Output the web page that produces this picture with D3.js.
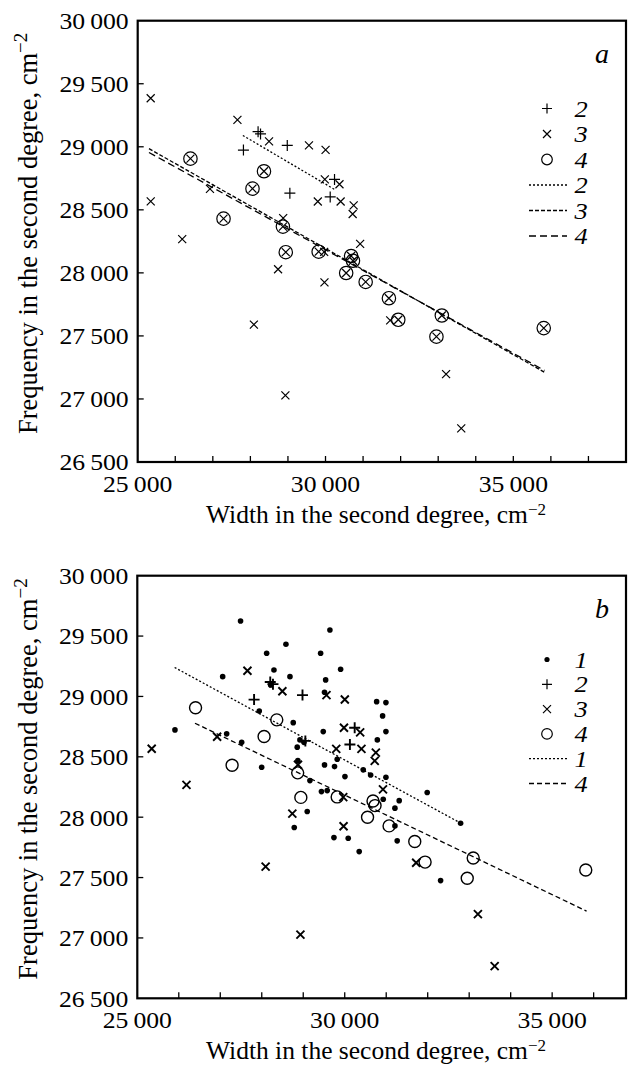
<!DOCTYPE html>
<html>
<head>
<meta charset="utf-8">
<script src="https://cdn.jsdelivr.net/npm/d3@7"></script>
<style>
  body { margin: 0; background: #fff; }
  svg { display: block; }
  text { font-family: "Liberation Serif", "Times New Roman", serif; fill: #000; }
</style>
</head>
<body>
<svg width="628" height="1068"></svg>
<script>
// series 2 (+), 3 (x), 4 (o) are the same in both panels
const series2 = [[27815, 28974], [28982, 29011], [28205, 29120], [28270, 29102],
  [30240, 28741], [29051, 28632], [30125, 28602]];
const series3 = [[25347, 28567], [27655, 29213], [28497, 29043],
  [29560, 29011], [30002, 28975], [29982, 28741], [30372, 28703], [29795, 28566],
  [30403, 28566], [30750, 28535], [30723, 28467], [26924, 28666], [28873, 28434],
  [26185, 28268], [28737, 28029], [29972, 27925], [28093, 27590], [28932, 27028],
  [30922, 28230], [31722, 27623], [33210, 27197], [33614, 26767], [29964, 28166]];
// one more x point shown only in panel a
const series3OnlyA = [[25346, 29385]];
const series4 = [[26404, 28906], [28362, 28806], [28056, 28668], [27285, 28430],
  [28866, 28367], [28942, 28164], [29818, 28168], [30682, 28134], [30731, 28096],
  [30550, 27999], [31069, 27928], [31688, 27799], [31937, 27628], [33097, 27662],
  [32953, 27494], [35810, 27562]];
// series 1 (dots), only in panel b
const series1 = [[27489, 29625], [29643, 29550], [28583, 29432], [28118, 29358],
  [29419, 29358], [28294, 29219], [29901, 29225], [27058, 29164], [28680, 29164],
  [29540, 29137], [28214, 29095], [29513, 29035], [27940, 28880], [28759, 28783],
  [25908, 28723], [29482, 28709], [27154, 28690], [28920, 28640], [29017, 28620],
  [27516, 28620], [28855, 28580], [29819, 28480], [29513, 28433], [29754, 28419],
  [27998, 28414], [30005, 28336], [29161, 28303], [29439, 28212], [29578, 28220],
  [29096, 28047], [28783, 27914], [29740, 27831], [30084, 27826], [30349, 27715],
  [30446, 28392], [30624, 28350], [30993, 28331], [31988, 28204], [32793, 27950],
  [30928, 28149], [31313, 28137], [31210, 28075], [31210, 27928], [31265, 27804],
  [32311, 27475], [30769, 28957], [30993, 28949], [30913, 28839], [30993, 28709],
  [30786, 28640], [28870, 28470]];

// regression lines (end points)
const fitA2 = [[27800, 29090], [30250, 28660]];
const fitA3 = [[25300, 28985], [35830, 27212]];
const fitA4 = [[25300, 28955], [35830, 27226]];
const fitB1 = [[25900, 29240], [32800, 27950]];
const fitB4 = [[26390, 28778], [35830, 27222]];

const yTicks = [26500, 27000, 27500, 28000, 28500, 29000, 29500, 30000];
const xLabels = [25000, 30000, 35000];
const xTitle = "Width in the second degree, cm";
const yTitle = "Frequency in the second degree, cm";

const STRETCH = 1.07;
const TICK_FONT = 24;
const TITLE_FONT = 25.5;

const DASH = { dot: "2,2", short: "4,2", long: "7,4", mid: "5,3" };

const svg = d3.select("svg");
const fmt = v => d3.format(",")(v).replace(",", "\u2009");

const markers = {
  plus: "M-5.5,0H5.5M0,-5.5V5.5",
  cross: "M-4,-4L4,4M4,-4L-4,4"
};

function drawPanel(p) {
  const x = d3.scaleLinear().domain(p.xDomain).range([p.left, p.right]);
  const y = d3.scaleLinear().domain([26500, 30000]).range([p.bottom, p.top]);
  const g = svg.append("g");

  // frame
  g.append("rect")
    .attr("x", p.left).attr("y", p.top)
    .attr("width", p.right - p.left).attr("height", p.bottom - p.top)
    .attr("fill", "none").attr("stroke", "#000").attr("stroke-width", 2.2);

  // inward ticks
  const xt = d3.range(26000, p.xDomain[1], 1000);
  g.selectAll(".xt").data(xt).join("line")
    .attr("x1", d => x(d)).attr("x2", d => x(d))
    .attr("y1", p.bottom).attr("y2", p.bottom - 6)
    .attr("stroke", "#000").attr("stroke-width", 1.3);
  g.selectAll(".yt").data(yTicks.slice(1, -1)).join("line")
    .attr("x1", p.left).attr("x2", p.left + 6)
    .attr("y1", d => y(d)).attr("y2", d => y(d))
    .attr("stroke", "#000").attr("stroke-width", 1.3);

  // tick labels
  g.selectAll(".yl").data(yTicks).join("text")
    .attr("transform", d => `translate(${p.left - 9},${y(d)}) scale(${STRETCH},1)`)
    .attr("dy", "0.35em").attr("text-anchor", "end")
    .attr("font-size", TICK_FONT).text(fmt);
  g.selectAll(".xl").data(xLabels).join("text")
    .attr("transform", d => `translate(${x(d)},${p.bottom + 30}) scale(${STRETCH},1)`)
    .attr("text-anchor", "middle")
    .attr("font-size", TICK_FONT).text(fmt);

  // axis titles
  const xt2 = g.append("text")
    .attr("transform", `translate(${p.xTitleX},${p.bottom + 61})`)
    .attr("text-anchor", "middle").attr("font-size", TITLE_FONT);
  xt2.append("tspan").text(xTitle);
  xt2.append("tspan").attr("dy", -8).attr("font-size", 17).text("\u22122");

  const yt2 = g.append("text")
    .attr("transform", `translate(37,${(p.top + p.bottom) / 2 - 8}) rotate(-90)`)
    .attr("text-anchor", "middle").attr("font-size", 26.5);
  yt2.append("tspan").text(yTitle);
  yt2.append("tspan").attr("dy", -10).attr("font-size", 19).text("\u22122");

  // panel letter
  g.append("text")
    .attr("x", p.right - 24).attr("y", p.top + 42)
    .attr("text-anchor", "middle")
    .attr("font-size", 28).attr("font-style", "italic").text(p.letter);

  // fit lines
  const line = d3.line().x(d => x(d[0])).y(d => y(d[1]));
  p.fits.forEach(f => {
    g.append("path").attr("d", line(f.data))
      .attr("fill", "none").attr("stroke", "#000")
      .attr("stroke-width", 1.3).attr("stroke-dasharray", DASH[f.dash]);
  });

  // points
  const sw = p.bold ? 1.9 : 1.2;
  if (p.dots) {
    g.selectAll(".dot").data(p.dots).join("circle")
      .attr("cx", d => x(d[0])).attr("cy", d => y(d[1])).attr("r", 2.8)
      .attr("fill", "#000");
  }
  g.selectAll(".c4").data(series4).join("circle")
    .attr("cx", d => x(d[0])).attr("cy", d => y(d[1])).attr("r", p.bold ? 6 : 6.7)
    .attr("fill", "none").attr("stroke", "#000").attr("stroke-width", p.bold ? 1.4 : 1.2);
  if (p.crossInCircle) {
    g.selectAll(".c4x").data(series4).join("path")
      .attr("transform", d => `translate(${x(d[0])},${y(d[1])})`)
      .attr("d", markers.cross).attr("stroke", "#000").attr("stroke-width", 1.2);
  }
  g.selectAll(".c3").data(p.crosses).join("path")
    .attr("transform", d => `translate(${x(d[0])},${y(d[1])})`)
    .attr("d", markers.cross).attr("stroke", "#000").attr("stroke-width", sw);
  g.selectAll(".c2").data(series2).join("path")
    .attr("transform", d => `translate(${x(d[0])},${y(d[1])})`)
    .attr("d", markers.plus).attr("stroke", "#000").attr("stroke-width", sw);

  // legend
  const lx = p.right - 79;
  p.legend.forEach((item, i) => {
    const ly = p.legendTop + i * p.legendStep;
    if (item.kind === "dot") {
      g.append("circle").attr("cx", lx).attr("cy", ly).attr("r", 2.6).attr("fill", "#000");
    } else if (item.kind === "o") {
      g.append("circle").attr("cx", lx).attr("cy", ly).attr("r", 5.3)
        .attr("fill", "none").attr("stroke", "#000").attr("stroke-width", 1.2);
    } else if (item.kind === "line") {
      g.append("line").attr("x1", lx - 18).attr("x2", lx + 20)
        .attr("y1", ly).attr("y2", ly)
        .attr("stroke", "#000").attr("stroke-width", 1.3)
        .attr("stroke-dasharray", DASH[item.dash]);
    } else {
      g.append("path").attr("transform", `translate(${lx},${ly})`)
        .attr("d", item.kind === "+" ? "M-5,0H5M0,-5V5" : "M-4,-4L4,4M4,-4L-4,4")
        .attr("stroke", "#000").attr("stroke-width", 1.2);
    }
    g.append("text")
      .attr("transform", `translate(${lx + 34},${ly + 8}) scale(1.1,1)`)
      .attr("text-anchor", "middle")
      .attr("font-size", 24).attr("font-style", "italic").text(item.label);
  });
}

drawPanel({
  letter: "a",
  left: 137.7, right: 626, top: 20.7, bottom: 462,
  xDomain: [25000, 38000], xTitleX: 376,
  crossInCircle: true, bold: false,
  crosses: series3.concat(series3OnlyA),
  fits: [
    { data: fitA2, dash: "dot" },
    { data: fitA3, dash: "short" },
    { data: fitA4, dash: "long" }
  ],
  legendTop: 108.5, legendStep: 25.5,
  legend: [
    { kind: "+", label: "2" }, { kind: "x", label: "3" }, { kind: "o", label: "4" },
    { kind: "line", dash: "dot", label: "2" },
    { kind: "line", dash: "short", label: "3" },
    { kind: "line", dash: "long", label: "4" }
  ]
});

drawPanel({
  letter: "b",
  left: 137.3, right: 626, top: 575.7, bottom: 998.3,
  xDomain: [25000, 36780], xTitleX: 376,
  crossInCircle: false, bold: true, dots: series1,
  crosses: series3,
  fits: [
    { data: fitB1, dash: "dot" },
    { data: fitB4, dash: "mid" }
  ],
  legendTop: 659.5, legendStep: 24.8,
  legend: [
    { kind: "dot", label: "1" }, { kind: "+", label: "2" }, { kind: "x", label: "3" },
    { kind: "o", label: "4" },
    { kind: "line", dash: "dot", label: "1" },
    { kind: "line", dash: "mid", label: "4" }
  ]
});
</script>
</body>
</html>
